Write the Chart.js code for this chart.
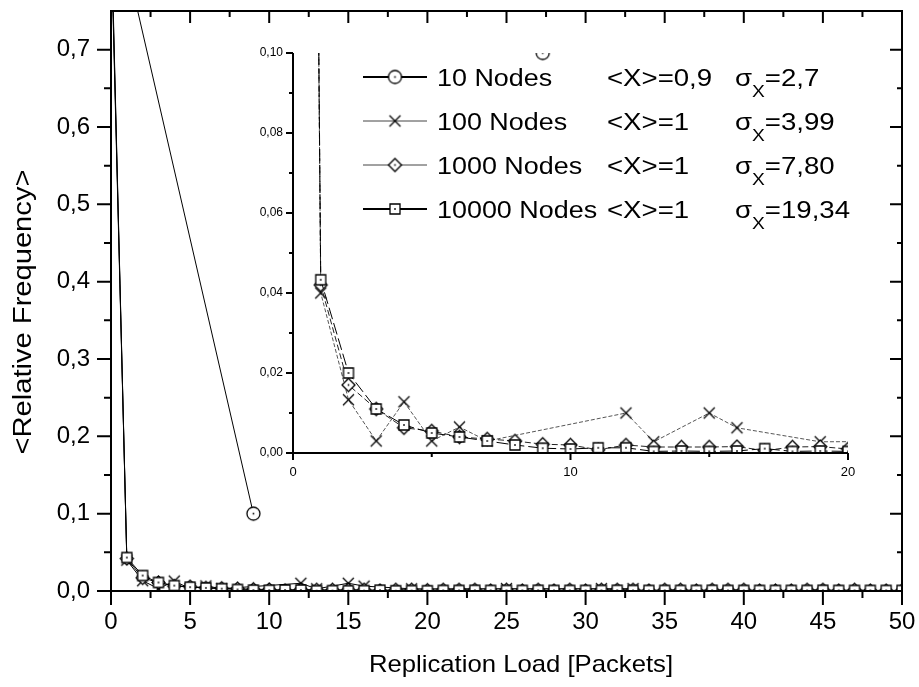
<!DOCTYPE html>
<html>
<head>
<meta charset="utf-8">
<script src="https://cdn.jsdelivr.net/npm/chart.js@4.4.0/dist/chart.umd.min.js"></script>
<style>
    body { margin: 0; background: #fff; }
    #wrap { position: relative; width: 919px; height: 687px; }
    #wrap canvas { position: absolute; left: 0; top: 0; }
</style>
</head>
<body>
<div id="wrap">
    <canvas id="mainChart" width="919" height="687"></canvas>
    <canvas id="insetChart" width="919" height="687"></canvas>
</div>
<script>
const FONT = '"Liberation Sans", Arial, Helvetica, sans-serif';

// replication load steps (x) shared by the big runs
const loadSteps = [0, 1, 2, 3, 4, 5, 6, 7, 8, 9, 10, 11, 12, 13, 14, 15, 16, 17, 18, 19, 20,
    21, 22, 23, 24, 25, 26, 27, 28, 29, 30, 31, 32, 33, 34, 35, 36, 37, 38, 39, 40,
    41, 42, 43, 44, 45, 46, 47, 48, 49, 50];

// 10 nodes: only two loads occur
const nodes10X = [0, 9];
const nodes10Y = [0.9, 0.1];

// 100 nodes: loads with no hits are missing
const nodes100X = [0, 1, 2, 3, 4, 5, 6, 7, 12, 13, 15, 16, 19, 25, 31, 33];
const nodes100Y = [0.87, 0.040, 0.0133, 0.003, 0.0128, 0.003, 0.0065, 0.003, 0.010, 0.0028,
    0.010, 0.0063, 0.0028, 0.003, 0.003, 0.003];

const nodes1000Y = [0.85, 0.042, 0.017, 0.011, 0.0063, 0.0055, 0.004, 0.0035, 0.003, 0.0022,
    0.002, 0.0008, 0.002, 0.0015, 0.0015, 0.0015, 0.0016, 0.0006, 0.0015, 0.0016,
    0.001, 0.0015, 0.0015, 0.0015, 0.0005, 0.0015, 0.0005, 0.0015, 0.0005, 0.0015,
    0.0005, 0.0015, 0.0015, 0.0015, 0.0005, 0.0015, 0.0015, 0.0005, 0.0015, 0.0015,
    0.0015, 0.0005, 0.0005, 0.0005, 0.0015, 0.0015, 0.0005, 0.0015, 0.0005, 0.0005, 0.0005];

const nodes10000Y = [0.86, 0.0433, 0.020, 0.011, 0.007, 0.005, 0.004, 0.003, 0.002, 0.0012,
    0.001, 0.0013, 0.0013, 0.0004, 0.0005, 0.0004, 0.0005, 0.0011, 0.0004, 0.0005,
    0.0004, 0.0008, 0.0008, 0.0009, 0.0008, 0.0008, 0.0008, 0.0009, 0.0008, 0.0008,
    0.0008, 0.0008, 0.0009, 0.0008, 0.0008, 0.0008, 0.0008, 0.0008, 0.0009, 0.0008,
    0.0008, 0.0008, 0.0008, 0.0008, 0.0008, 0.0009, 0.0008, 0.0008, 0.0008, 0.0008, 0.0008];

const seriesLabels = ['10 Nodes', '100 Nodes', '1000 Nodes', '10000 Nodes'];
const meanLabels = ['<X>=0,9', '<X>=1', '<X>=1', '<X>=1'];
const sigmaLabels = ['=2,7', '=3,99', '=7,80', '=19,34'];

const xTitle = 'Replication Load [Packets]';
const yTitle = '<Relative Frequency>';

// open markers with a centre dot, drawn once and reused as pointStyle images
function makeMarker(kind, size) {
    const c = document.createElement('canvas');
    const s = size + 4;
    c.width = s;
    c.height = s;
    const g = c.getContext('2d');
    const m = s / 2, r = size / 2;
    g.strokeStyle = '#000';
    g.fillStyle = '#fff';
    g.lineWidth = 1.3;
    g.beginPath();
    if (kind === 'cross') {
        g.moveTo(m - r, m - r); g.lineTo(m + r, m + r);
        g.moveTo(m + r, m - r); g.lineTo(m - r, m + r);
        g.stroke();
        return c;
    }
    if (kind === 'circle') {
        g.arc(m, m, r, 0, Math.PI * 2);
    } else if (kind === 'diamond') {
        g.moveTo(m, m - r); g.lineTo(m + r, m); g.lineTo(m, m + r); g.lineTo(m - r, m); g.closePath();
    } else {
        g.rect(m - r, m - r, size, size);
    }
    g.fill();
    g.stroke();
    g.fillStyle = '#000';
    g.fillRect(m - 0.8, m - 0.8, 1.6, 1.6);
    return c;
}

const markers = {
    circle: makeMarker('circle', 13),
    cross: makeMarker('cross', 11),
    diamond: makeMarker('diamond', 13),
    square: makeMarker('square', 10)
};

function toPoints(xs, ys) {
    return xs.map((x, i) => ({ x: x, y: ys[i] }));
}

function buildDatasets(inset) {
    return [
        { label: seriesLabels[0], data: toPoints(nodes10X, nodes10Y), pointStyle: markers.circle, borderColor: '#000', order: 4 },
        { label: seriesLabels[1], data: toPoints(nodes100X, nodes100Y), pointStyle: markers.cross,
          borderColor: inset ? '#555' : '#000', borderDash: inset ? [4, 2] : [], order: 3 },
        { label: seriesLabels[2], data: toPoints(loadSteps, nodes1000Y), pointStyle: markers.diamond,
          borderColor: inset ? '#222' : '#000', borderDash: inset ? [6, 3] : [], order: 2 },
        { label: seriesLabels[3], data: toPoints(loadSteps, nodes10000Y), pointStyle: markers.square,
          borderColor: '#000', borderDash: inset ? [12, 4] : [], order: 1 }
    ].map(d => Object.assign({
        tension: 0, fill: false, clip: 0, borderWidth: 1,
        pointRadius: 6, pointHoverRadius: 6, backgroundColor: '#fff'
    }, d));
}

// keep the plot box where the layout padding puts it
function fixSize(prop, size) {
    return s => {
        s[prop] = size;
        s.paddingTop = 0;
        s.paddingBottom = 0;
        s.paddingLeft = 0;
        s.paddingRight = 0;
    };
}

function stretchText(ctx, text, x, y, sx) {
    ctx.save();
    ctx.translate(x, y);
    ctx.scale(sx, 1);
    ctx.fillText(text, 0, 0);
    ctx.restore();
}

// box, tick marks and axis titles of the main plot
const mainAxes = {
    id: 'mainAxes',
    afterDraw(chart) {
        const { ctx, chartArea: a, scales } = chart;
        const x = scales.x, y = scales.y;
        ctx.save();
        ctx.strokeStyle = '#000';
        ctx.lineWidth = 2;
        ctx.strokeRect(a.left, a.top, a.right - a.left, a.bottom - a.top);
        ctx.beginPath();
        x.ticks.forEach(t => {
            const px = x.getPixelForValue(t.value);
            const major = Math.round(t.value * 10) % 50 === 0;
            ctx.moveTo(px, a.bottom);
            ctx.lineTo(px, a.bottom + (major ? 14 : 7));
            if (t.value > x.min && t.value < x.max) {
                ctx.moveTo(px, a.top);
                ctx.lineTo(px, a.top + (major ? 12 : 6));
            }
        });
        y.ticks.forEach(t => {
            if (t.value >= y.max - 1e-9) return;
            const py = y.getPixelForValue(t.value);
            const major = Math.round(t.value * 100) % 10 === 0;
            ctx.moveTo(a.left, py);
            ctx.lineTo(a.left - (major ? 14 : 7), py);
            if (t.value > y.min) {
                ctx.moveTo(a.right, py);
                ctx.lineTo(a.right - (major ? 12 : 5), py);
            }
        });
        ctx.stroke();

        ctx.fillStyle = '#000';
        ctx.textAlign = 'center';
        ctx.textBaseline = 'alphabetic';
        ctx.font = '24px ' + FONT;
        stretchText(ctx, xTitle, 521, 672, 1.07);
        ctx.save();
        ctx.translate(31, 312);
        ctx.rotate(-Math.PI / 2);
        ctx.font = '26px ' + FONT;
        stretchText(ctx, yTitle, 0, 0, 1.12);
        ctx.restore();
        ctx.restore();
    }
};

// L-shaped axes and the legend of the inset
const insetAxes = {
    id: 'insetAxes',
    afterDraw(chart) {
        const { ctx, chartArea: a, scales } = chart;
        const x = scales.x, y = scales.y;
        ctx.save();
        ctx.strokeStyle = '#000';
        ctx.lineWidth = 2;
        ctx.beginPath();
        ctx.moveTo(a.left, a.top);
        ctx.lineTo(a.left, a.bottom);
        ctx.lineTo(a.right, a.bottom);
        x.ticks.forEach(t => {
            const px = x.getPixelForValue(t.value);
            const major = t.value % 10 === 0;
            ctx.moveTo(px, a.bottom);
            ctx.lineTo(px, a.bottom + (major ? 7 : 4));
        });
        y.ticks.forEach(t => {
            const py = y.getPixelForValue(t.value);
            const major = Math.round(t.value * 100) % 2 === 0;
            ctx.moveTo(a.left, py);
            ctx.lineTo(a.left - (major ? 7 : 4), py);
        });
        ctx.stroke();

        const rows = [77, 121, 165, 209];
        const icons = [markers.circle, markers.cross, markers.diamond, markers.square];
        const lineW = [2, 1, 1, 2];
        const lineC = ['#000', '#444', '#444', '#000'];
        ctx.fillStyle = '#000';
        ctx.textAlign = 'left';
        ctx.textBaseline = 'alphabetic';
        rows.forEach((cy, i) => {
            ctx.lineWidth = lineW[i];
            ctx.strokeStyle = lineC[i];
            ctx.beginPath();
            ctx.moveTo(363, cy);
            ctx.lineTo(427, cy);
            ctx.stroke();
            const ic = icons[i];
            ctx.drawImage(ic, 395 - ic.width / 2, cy - ic.height / 2);

            const base = cy + 8.5;
            ctx.font = '23px ' + FONT;
            stretchText(ctx, seriesLabels[i], 437, base, 1.17);
            stretchText(ctx, meanLabels[i], 607, base, 1.2);
            stretchText(ctx, '\u03c3', 735, base, 1.2);
            const subX = 735 + ctx.measureText('\u03c3').width * 1.2;
            ctx.font = '16px ' + FONT;
            stretchText(ctx, 'X', subX, base + 11, 1.2);
            const eqX = subX + ctx.measureText('X').width * 1.2;
            ctx.font = '23px ' + FONT;
            stretchText(ctx, sigmaLabels[i], eqX, base, 1.2);
        });
        ctx.restore();
    }
};

const mainChart = new Chart(document.getElementById('mainChart'), {
    type: 'line',
    data: { datasets: buildDatasets(false) },
    options: {
        responsive: false,
        animation: false,
        events: [],
        layout: { padding: { left: 0, right: 17, top: 11, bottom: 0 } },
        plugins: {
            legend: { display: false },
            tooltip: { enabled: false }
        },
        scales: {
            x: {
                type: 'linear',
                min: 0,
                max: 50,
                afterFit: fixSize('height', 96),
                grid: { display: false, drawTicks: false },
                border: { display: false },
                ticks: {
                    stepSize: 2.5,
                    autoSkip: false,
                    maxRotation: 0,
                    padding: 20,
                    color: '#000',
                    font: { family: FONT, size: 24, lineHeight: '22px' },
                    callback: v => (Math.round(v * 10) % 50 === 0 ? String(v) : '')
                }
            },
            y: {
                type: 'linear',
                min: 0,
                max: 0.75,
                afterFit: fixSize('width', 111),
                grid: { display: false, drawTicks: false },
                border: { display: false },
                ticks: {
                    stepSize: 0.05,
                    autoSkip: false,
                    padding: 21,
                    color: '#000',
                    font: { family: FONT, size: 24, lineHeight: '22px' },
                    callback: v => {
                        const k = Math.round(v * 100);
                        return k % 10 === 0 ? (k / 100).toFixed(1).replace('.', ',') : '';
                    }
                }
            }
        }
    },
    plugins: [mainAxes]
});

const insetChart = new Chart(document.getElementById('insetChart'), {
    type: 'line',
    data: { datasets: buildDatasets(true) },
    options: {
        responsive: false,
        animation: false,
        events: [],
        layout: { padding: { left: 240, right: 71, top: 53, bottom: 0 } },
        plugins: {
            legend: { display: false },
            tooltip: { enabled: false }
        },
        scales: {
            x: {
                type: 'linear',
                min: 0,
                max: 20,
                afterFit: fixSize('height', 234),
                grid: { display: false, drawTicks: false },
                border: { display: false },
                ticks: {
                    stepSize: 5,
                    autoSkip: false,
                    maxRotation: 0,
                    padding: 12,
                    color: '#000',
                    font: { family: FONT, size: 13 },
                    callback: v => (v % 10 === 0 ? String(v) : '')
                }
            },
            y: {
                type: 'linear',
                min: 0,
                max: 0.1,
                afterFit: fixSize('width', 53),
                grid: { display: false, drawTicks: false },
                border: { display: false },
                ticks: {
                    stepSize: 0.01,
                    autoSkip: false,
                    padding: 10,
                    color: '#000',
                    font: { family: FONT, size: 12 },
                    callback: v => {
                        const k = Math.round(v * 100);
                        return k % 2 === 0 ? (k / 100).toFixed(2).replace('.', ',') : '';
                    }
                }
            }
        }
    },
    plugins: [insetAxes]
});
</script>
</body>
</html>
